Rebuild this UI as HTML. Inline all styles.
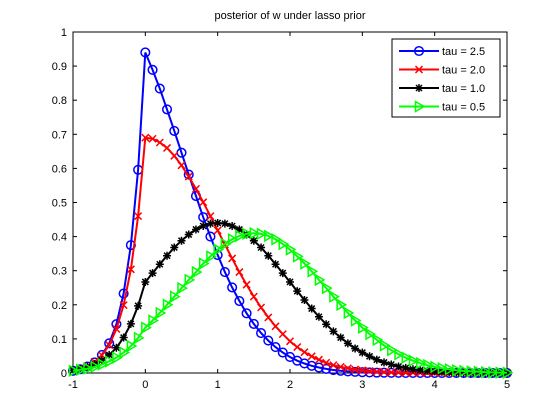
<!DOCTYPE html>
<html><head><meta charset="utf-8"><style>
html,body{margin:0;padding:0;background:#fff;}
svg{display:block;font-family:"Liberation Sans",sans-serif;}
</style></head><body>
<svg id="chart" width="560" height="420" xmlns="http://www.w3.org/2000/svg">
<rect x="0" y="0" width="560" height="420" fill="#fff"/>
<text x="290" y="19" font-size="11" text-anchor="middle">posterior of w under lasso prior</text>
<g id="axes"></g>
<g id="series"></g>
<g id="legend"></g>
</svg>
<script>
const xTicks = [-1,0,1,2,3,4,5];
const yTicks = [0,0.1,0.2,0.3,0.4,0.5,0.6,0.7,0.8,0.9,1];
const yTickLabels = ["0","0.1","0.2","0.3","0.4","0.5","0.6","0.7","0.8","0.9","1"];
const wValues = [-1,-0.9,-0.8,-0.7,-0.6,-0.5,-0.4,-0.3,-0.2,-0.1,0,0.1,0.2,0.3,0.4,0.5,0.6,0.7,0.8,0.9,1,1.1,1.2,1.3,1.4,1.5,1.6,1.7,1.8,1.9,2,2.1,2.2,2.3,2.4,2.5,2.6,2.7,2.8,2.9,3,3.1,3.2,3.3,3.4,3.5,3.6,3.7,3.8,3.9,4,4.1,4.2,4.3,4.4,4.5,4.6,4.7,4.8,4.9,5];
const seriesNames = ["tau = 2.5","tau = 2.0","tau = 1.0","tau = 0.5"];
const tau25 = [0.0063,0.011,0.019,0.031,0.053,0.087,0.143,0.233,0.375,0.596,0.94,0.889,0.834,0.773,0.710,0.646,0.582,0.519,0.457,0.400,0.346,0.296,0.251,0.211,0.175,0.144,0.117,0.095,0.076,0.060,0.047,0.036,0.028,0.021,0.016,0.012,0.0087,0.0064,0.0046,0.0033,0.0023,0.0016,0.0011,0.0008,0.0005,0.0004,0.0002,0.0001,0.0001,0,0,0,0,0,0,0,0,0,0,0,0];
const tau20 = [0.0077,0.013,0.020,0.033,0.052,0.082,0.129,0.199,0.304,0.460,0.69,0.687,0.676,0.660,0.637,0.609,0.576,0.540,0.501,0.460,0.418,0.377,0.336,0.296,0.259,0.224,0.192,0.163,0.137,0.114,0.093,0.076,0.061,0.049,0.039,0.030,0.023,0.018,0.014,0.010,0.0077,0.0057,0.0041,0.0030,0.0021,0.0015,0.0010,0.0008,0.0005,0.0003,0.0002,0.0001,0.0001,0,0,0,0,0,0,0,0];
const tau10 = [0.0081,0.012,0.018,0.026,0.037,0.053,0.074,0.104,0.144,0.197,0.267,0.293,0.319,0.344,0.368,0.388,0.406,0.421,0.431,0.438,0.44,0.438,0.431,0.421,0.406,0.388,0.368,0.344,0.319,0.293,0.267,0.240,0.214,0.189,0.165,0.143,0.122,0.104,0.087,0.072,0.060,0.049,0.039,0.031,0.025,0.019,0.015,0.011,0.0087,0.0066,0.0049,0.0036,0.0026,0.0019,0.0014,0.0010,0.0007,0.0005,0.0003,0.0002,0.0001];
const tau05 = [0.0066,0.0094,0.013,0.018,0.025,0.034,0.045,0.060,0.079,0.103,0.133,0.154,0.176,0.200,0.224,0.249,0.273,0.296,0.321,0.342,0.362,0.378,0.392,0.402,0.408,0.41,0.408,0.402,0.392,0.378,0.362,0.342,0.321,0.298,0.273,0.249,0.224,0.200,0.176,0.154,0.133,0.114,0.097,0.081,0.067,0.055,0.045,0.036,0.029,0.023,0.018,0.014,0.011,0.008,0.006,0.0046,0.0034,0.0025,0.0018,0.0013,0.0009];

const NS="http://www.w3.org/2000/svg";
const L=73,R=507,T=32,B=373;
function xs(v){return L+(v-(-1))/6*(R-L);}
function ys(v){return B-v*(B-T);}
function mk(tag,attrs,parent){const e=document.createElementNS(NS,tag);for(const k in attrs)e.setAttribute(k,attrs[k]);parent.appendChild(e);return e;}

const axes=document.getElementById('axes');
const box=mk('rect',{x:L,y:T,width:R-L,height:B-T,fill:'none',stroke:'#000','stroke-width':1},axes);


xTicks.forEach(t=>{
  const x=xs(t);
  const l1=mk('line',{x1:x,y1:B,x2:x,y2:B-4,stroke:'#000'},axes);
  
  
  const l2=mk('line',{x1:x,y1:T,x2:x,y2:T+4,stroke:'#000'},axes);
  
  
  const tx=mk('text',{x:x,y:B+15,'font-size':11,'text-anchor':'middle'},axes);
  tx.textContent=String(t);
  
  
});
yTicks.forEach((t,i)=>{
  const y=ys(t);
  const l1=mk('line',{x1:L,y1:y,x2:L+4,y2:y,stroke:'#000'},axes);
  
  
  const l2=mk('line',{x1:R,y1:y,x2:R-4,y2:y,stroke:'#000'},axes);
  
  
  const tx=mk('text',{x:L-6,y:y+4,'font-size':11,'text-anchor':'end'},axes);
  tx.textContent=yTickLabels[i];
  
  
});

function marker(g,type,x,y,color){
  let e;
  if(type==='o'){e=mk('circle',{cx:x,cy:y,r:4.3,fill:'none',stroke:color,'stroke-width':1.5},g);}
  else if(type==='x'){e=mk('path',{d:`M${x-3.5},${y-3.5}L${x+3.5},${y+3.5}M${x-3.5},${y+3.5}L${x+3.5},${y-3.5}`,stroke:color,'stroke-width':1.5,fill:'none'},g);}
  else if(type==='*'){e=mk('path',{d:`M${x-4},${y}L${x+4},${y}M${x},${y-4}L${x},${y+4}M${x-3},${y-3}L${x+3},${y+3}M${x-3},${y+3}L${x+3},${y-3}`,stroke:color,'stroke-width':1.5,fill:'none'},g);}
  else {e=mk('path',{d:`M${x-3.5},${y-5}L${x+5},${y}L${x-3.5},${y+5}Z`,stroke:color,'stroke-width':1.5,fill:'none'},g);}
  
  
}
const seriesData=[tau25,tau20,tau10,tau05];
const colors=['#0000ff','#ff0000','#000000','#00ff00'];
const markers=['o','x','*','>'];
const seriesKeys=['tau-2-5','tau-2-0','tau-1-0','tau-0-5'];
const sg=document.getElementById('series');
seriesData.forEach((arr,si)=>{
  const g=mk('g',{},sg);
  
  
  const pts=arr.map((v,i)=>xs(wValues[i]).toFixed(1)+','+ys(v).toFixed(1)).join(' ');
  const pl=mk('polyline',{points:pts,fill:'none',stroke:colors[si],'stroke-width':2},g);
  
  
  arr.forEach((v,i)=>marker(g,markers[si],xs(wValues[i]),ys(v),colors[si]));
});

const lg=document.getElementById('legend');
const lb=mk('rect',{x:392,y:39,width:108,height:78,fill:'#fff',stroke:'#000'},lg);


seriesNames.forEach((n,i)=>{
  const y=51+i*18.5;
  const g=mk('g',{},lg);
  
  
  const ln=mk('line',{x1:399,y1:y,x2:439,y2:y,stroke:colors[i],'stroke-width':2},g);
  
  
  marker(g,markers[i],419,y,colors[i]);
  const t=mk('text',{x:442,y:y+4,'font-size':11},g);
  t.textContent=n;
  
  
});
</script>
</body></html>
